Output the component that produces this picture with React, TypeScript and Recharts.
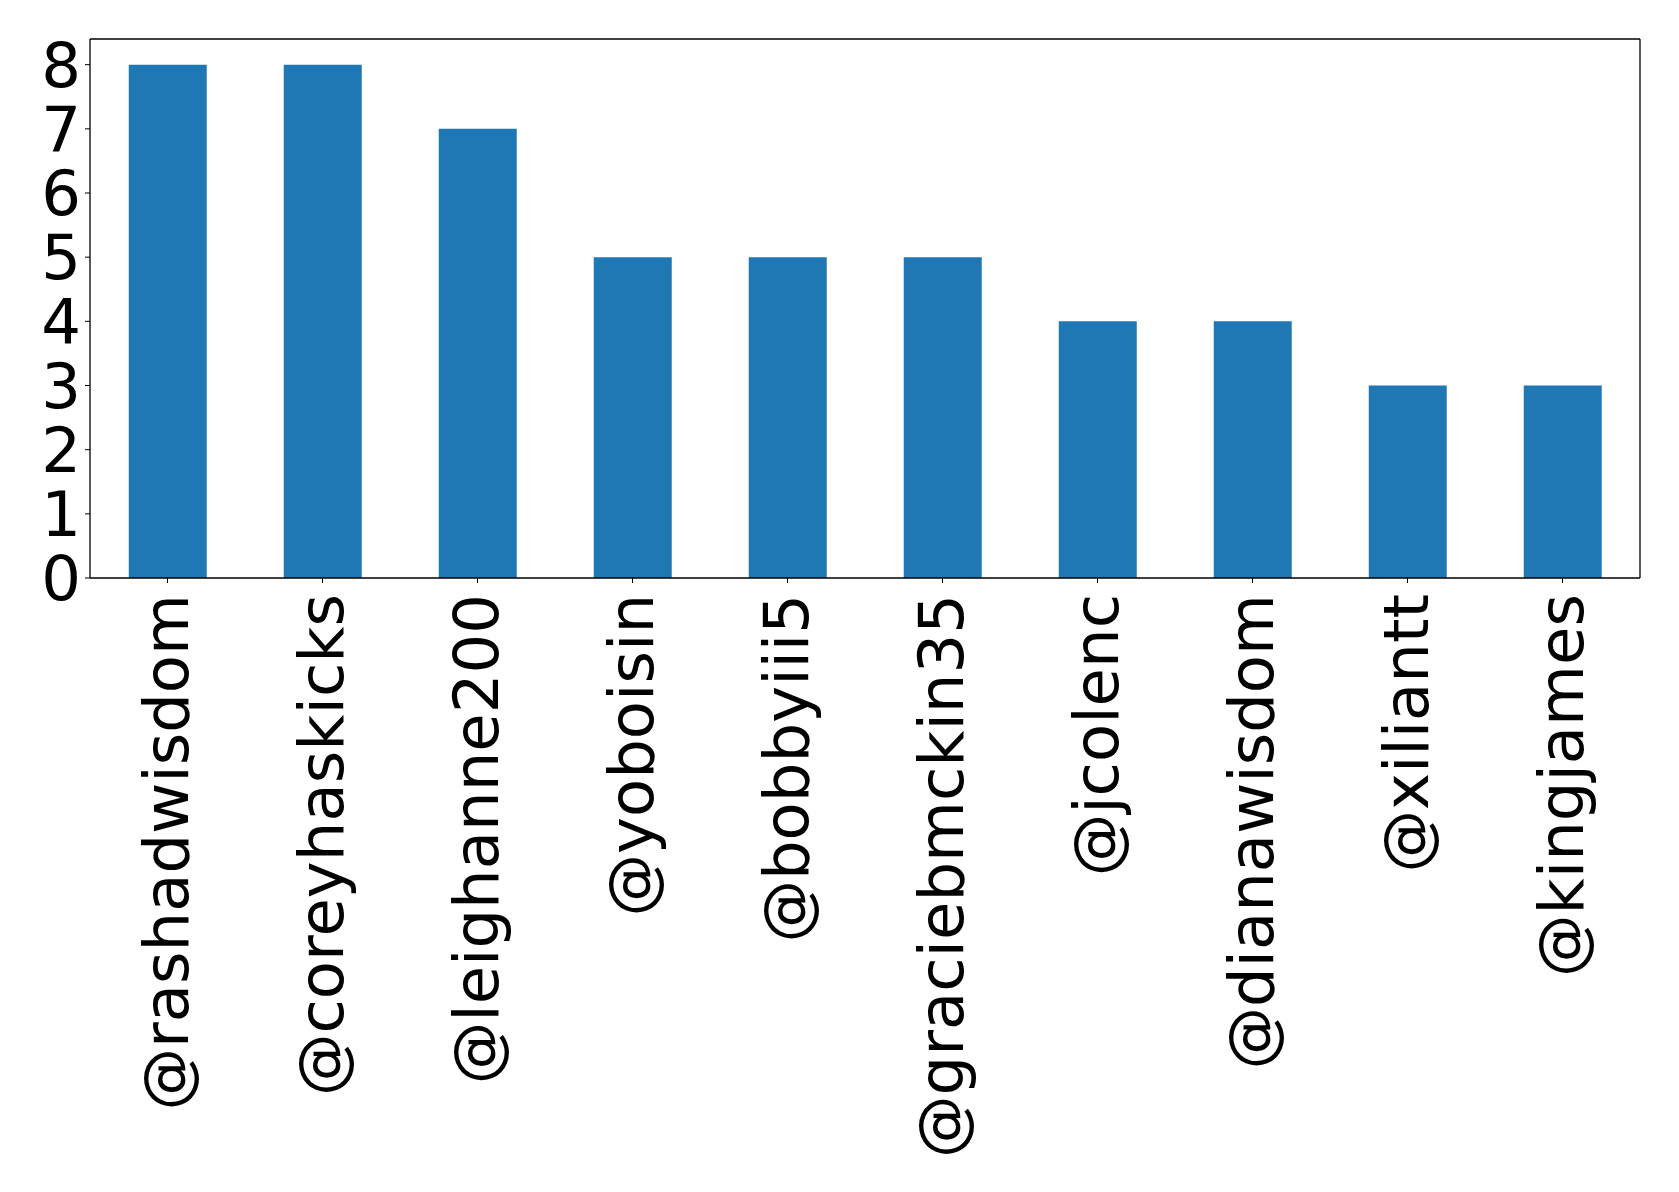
import { Bar, ComposedChart, Line, XAxis, YAxis } from "recharts";

const users = [
  "@rashadwisdom",
  "@coreyhaskicks",
  "@leighanne200",
  "@yoboisin",
  "@bobbyiii5",
  "@graciebmckin35",
  "@jcolenc",
  "@dianawisdom",
  "@xiliantt",
  "@kingjames",
];
const counts = [8, 8, 7, 5, 5, 5, 4, 4, 3, 3];
const yTicks = [0, 1, 2, 3, 4, 5, 6, 7, 8];

const data = users.map((name, i) => ({ name, count: counts[i] }));

const FONT = "DejaVu Sans";
const frame = { stroke: "#000", strokeWidth: 1.3 };

function RotatedTick(props: any) {
  const { x, y, payload } = props;
  return (
    <text
      x={x}
      y={y}
      transform={`rotate(-90, ${x}, ${y})`}
      textAnchor="end"
      dy="0.33em"
      fontSize={62.5}
      fontFamily={FONT}
      fill="#000"
    >
      {payload.value}
    </text>
  );
}

export default function App() {
  return (
    <div style={{ position: "absolute", left: 0, top: 0, width: 1679, height: 1192, background: "#fff" }}>
      <ComposedChart
        width={1679}
        height={1192}
        data={data}
        margin={{ top: 38, right: 38, left: 0, bottom: 0 }}
        barCategoryGap="25%"
      >
        <XAxis
          dataKey="name"
          interval={0}
          height={614}
          tickSize={5}
          tickMargin={11}
          axisLine={frame}
          tickLine={{ stroke: "#000" }}
          tick={<RotatedTick />}
        />
        <XAxis
          xAxisId="top"
          dataKey="name"
          orientation="top"
          height={1}
          tick={false}
          tickLine={false}
          axisLine={frame}
        />
        <YAxis
          domain={[0, 8.4]}
          ticks={yTicks}
          width={90}
          tickSize={5}
          tickMargin={4}
          interval={0}
          allowDataOverflow
          axisLine={frame}
          tickLine={{ stroke: "#000" }}
          tick={{ fontSize: 62.5, fill: "#000", fontFamily: FONT }}
        />
        <YAxis
          yAxisId="right"
          orientation="right"
          domain={[0, 8.4]}
          width={1}
          tick={false}
          tickLine={false}
          axisLine={frame}
        />
        <Bar dataKey="count" fill="#1f77b4" isAnimationActive={false} />
        <Line
          xAxisId="top"
          yAxisId="right"
          dataKey="count"
          stroke="none"
          dot={false}
          activeDot={false}
          isAnimationActive={false}
        />
      </ComposedChart>
    </div>
  );
}
